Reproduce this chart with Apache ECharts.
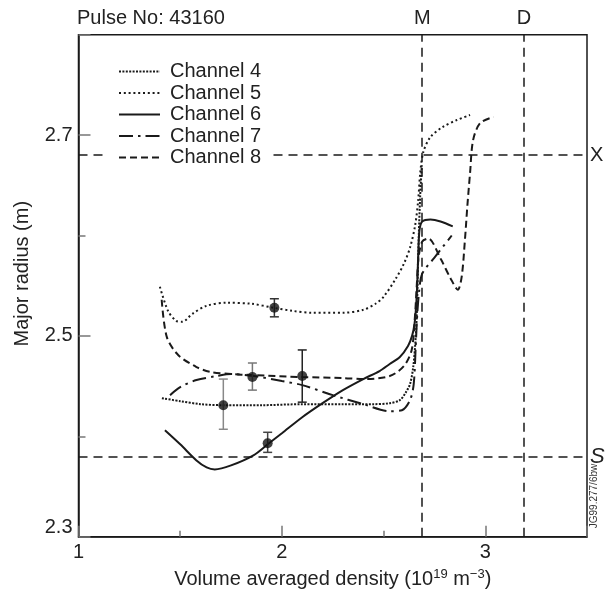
<!DOCTYPE html>
<html>
<head>
<meta charset="utf-8">
<script src="https://cdn.jsdelivr.net/npm/echarts@6/dist/echarts.min.js"></script>
<style>html,body{margin:0;padding:0;background:#fff;}#c{width:611px;height:593px;}</style>
</head>
<body>
<div id="c"></div>
<script>
// ---- data ----
const titleText = 'Pulse No: 43160';
const xTickLabels = ['1', '2', '3'];
const yTickLabels = ['2.3', '2.5', '2.7'];
const channelNames = ['Channel 4', 'Channel 5', 'Channel 6', 'Channel 7', 'Channel 8'];

const ch4 = [[1.41,2.438],[1.5,2.435],[1.6,2.432],[1.71,2.431],[1.9,2.431],[2.1,2.432],[2.3,2.432],[2.45,2.432],[2.53,2.433],[2.58,2.436],[2.61,2.444],[2.63,2.452],[2.645,2.468],[2.655,2.49],[2.663,2.52],[2.668,2.56],[2.673,2.60],[2.68,2.64],[2.688,2.67]];
const ch5 = [[1.40,2.549],[1.44,2.525],[1.48,2.515],[1.51,2.514],[1.56,2.522],[1.63,2.530],[1.73,2.533],[1.85,2.532],[1.96,2.528],[2.05,2.525],[2.15,2.523],[2.3,2.523],[2.4,2.526],[2.46,2.532],[2.5,2.539],[2.56,2.557],[2.6,2.572],[2.63,2.588],[2.655,2.61],[2.67,2.635],[2.68,2.662],[2.695,2.683],[2.73,2.698],[2.79,2.708],[2.86,2.715],[2.925,2.72]];
const ch6 = [[1.425,2.406],[1.5,2.392],[1.58,2.376],[1.63,2.369],[1.67,2.367],[1.75,2.371],[1.86,2.381],[1.93,2.392],[2.0,2.403],[2.1,2.419],[2.2,2.433],[2.3,2.446],[2.4,2.457],[2.48,2.465],[2.53,2.472],[2.58,2.479],[2.62,2.49],[2.64,2.5],[2.652,2.512],[2.66,2.53],[2.666,2.555],[2.671,2.585],[2.677,2.606],[2.69,2.614],[2.73,2.616],[2.78,2.614],[2.84,2.609]];
const ch7 = [[1.45,2.441],[1.5,2.449],[1.58,2.456],[1.68,2.460],[1.75,2.462],[1.86,2.460],[2.0,2.455],[2.1,2.451],[2.25,2.441],[2.4,2.432],[2.53,2.425],[2.59,2.426],[2.63,2.436],[2.648,2.452],[2.658,2.49],[2.665,2.52],[2.675,2.545],[2.69,2.562],[2.75,2.578],[2.835,2.600]];
const ch8 = [[1.409,2.536],[1.434,2.499],[1.49,2.481],[1.58,2.469],[1.65,2.464],[1.75,2.462],[1.85,2.461],[2.1,2.459],[2.3,2.458],[2.4,2.457],[2.53,2.46],[2.6,2.470],[2.638,2.486],[2.654,2.519],[2.663,2.55],[2.672,2.578],[2.69,2.594],[2.72,2.597],[2.78,2.577],[2.83,2.557],[2.865,2.546],[2.884,2.559],[2.90,2.596],[2.912,2.63],[2.925,2.662],[2.94,2.695],[2.975,2.712],[3.04,2.718]];

const points = [[1.963,2.528],[1.855,2.459],[2.100,2.460],[1.712,2.431],[1.930,2.393]];
const errorBars = [[1.963,2.519,2.537],[1.855,2.446,2.473],[2.100,2.434,2.486],[1.712,2.407,2.457],[1.930,2.384,2.404]];

const verticalMarks = [{name: 'M', value: 2.695}, {name: 'D', value: 3.185}];
const horizontalMarks = [{name: 'X', value: 2.678}, {name: 'S', value: 2.381}];
const figureCode = 'JG99.277/6bw';

// ---- styles ----
const FONT = "'Liberation Sans', Arial, Helvetica, sans-serif";
const INK = '#1a1a1a';
const errColors = ['#333', '#777', '#222', '#888', '#444'];
const lineStyles = [
  {type: [2, 1.4], width: 2},
  {type: [2, 2.8], width: 2},
  {type: 'solid', width: 2},
  {type: [14, 5, 2.5, 5], width: 2},
  {type: [7, 4], width: 2}
];
const chData = [ch4, ch5, ch6, ch7, ch8];

const chart = echarts.init(document.getElementById('c'), null, {renderer: 'canvas'});

const lineSeries = channelNames.map((nm, i) => ({
  name: nm,
  type: 'line',
  data: chData[i],
  showSymbol: false,
  symbol: 'none',
  smooth: 0.3,
  lineStyle: Object.assign({color: INK}, lineStyles[i]),
  itemStyle: {color: INK},
  z: 3,
  silent: true
}));

const refLineStyle = {color: INK, type: [9, 6], width: 1.5};

const option = {
  animation: false,
  backgroundColor: '#fff',
  title: {
    text: titleText, left: 77, top: 8, padding: 0,
    textStyle: {fontFamily: FONT, fontSize: 20, fontWeight: 'normal', color: '#222'}
  },
  grid: {
    left: 78.5, right: 24, top: 34.7, bottom: 56.3,
    show: true, borderColor: INK, borderWidth: 1.5, backgroundColor: 'transparent',
    outerBoundsMode: 'none'
  },
  legend: {
    data: channelNames,
    orient: 'vertical',
    left: 108, top: 58.5,
    padding: [3, 10, 3, 10],
    backgroundColor: '#fff',
    itemWidth: 41, itemHeight: 14, itemGap: 1.5,
    itemStyle: {opacity: 0, color: 'rgba(0,0,0,0)', borderColor: 'rgba(0,0,0,0)', borderWidth: 0},
    textStyle: {fontFamily: FONT, fontSize: 20, color: '#222', padding: [0, 0, 0, 5]},
    z: 10
  },
  xAxis: [
    {
      type: 'value', min: 1, max: 3.5, interval: 0.5,
      position: 'bottom',
      axisLine: {show: true, onZero: false, lineStyle: {color: INK, width: 1.5}},
      axisTick: {show: true, inside: true, length: 6, lineStyle: {color: '#777', width: 1.5}},
      axisLabel: {
        fontFamily: FONT, fontSize: 20, color: '#222', margin: 6,
        formatter: v => { const s = String(Math.round(v * 10) / 10); return xTickLabels.includes(s) ? s : ''; }
      },
      splitLine: {show: false},
      name: '{a|Volume averaged density (10}{s|19}{a| m}{s|−3}{a|)}',
      nameLocation: 'middle', nameGap: 31,
      nameTextStyle: {
        rich: {
          a: {fontFamily: FONT, fontSize: 20, color: '#222', lineHeight: 24},
          s: {fontFamily: FONT, fontSize: 13, color: '#222', lineHeight: 14, verticalAlign: 'top'}
        }
      }
    },
    {
      type: 'value', min: 1, max: 3.5, interval: 1,
      position: 'bottom', offset: 0,
      axisLine: {show: false, onZero: false},
      axisTick: {show: true, inside: true, length: 11, lineStyle: {color: '#777', width: 1.5}},
      axisLabel: {show: false},
      splitLine: {show: false}
    }
  ],
  yAxis: [
    {
      type: 'value', min: 2.3, max: 2.8, interval: 0.1,
      position: 'left',
      axisLine: {show: true, onZero: false, lineStyle: {color: INK, width: 1.5}},
      axisTick: {show: true, inside: true, length: 7, lineStyle: {color: '#777', width: 1.5}},
      axisLabel: {
        fontFamily: FONT, fontSize: 20, color: '#222', margin: 6,
        formatter: v => {
          const s = (Math.round(v * 10) / 10).toFixed(1);
          if (!yTickLabels.includes(s)) return '';
          return s === yTickLabels[0] ? '{low|' + s + '}' : s;
        },
        rich: {low: {fontFamily: FONT, fontSize: 20, color: '#222', padding: [0, 0, 18, 0]}}
      },
      splitLine: {show: false},
      name: 'Major radius (m)',
      nameLocation: 'middle', nameGap: 46, nameRotate: 90,
      nameTextStyle: {fontFamily: FONT, fontSize: 20, color: '#222', padding: [0, 0, 0, 24]}
    },
    {
      type: 'value', min: 2.3, max: 2.8, interval: 0.2,
      position: 'left', offset: 0,
      axisLine: {show: false, onZero: false},
      axisTick: {show: true, inside: true, length: 12, lineStyle: {color: '#777', width: 1.5}},
      axisLabel: {show: false},
      splitLine: {show: false}
    }
  ],
  series: lineSeries.concat([
    {
      name: 'refs', type: 'line', data: [], silent: true, z: 1,
      markLine: {
        silent: true, symbol: 'none', animation: false,
        lineStyle: refLineStyle,
        label: {show: true, formatter: '{b}', fontFamily: FONT, fontSize: 20, color: '#222'},
        data: verticalMarks.map(m => ({name: m.name, xAxis: m.value, label: {position: 'end', distance: 6}}))
          .concat(horizontalMarks.map(m => ({
            name: m.name, yAxis: m.value,
            label: m.name === 'S'
              ? {position: 'end', distance: 3, fontSize: 22, fontStyle: 'italic'}
              : {position: 'end', distance: 3}
          })))
      }
    },
    {
      name: 'errors', type: 'custom', z: 5, silent: true,
      data: errorBars,
      renderItem: (params, api) => {
        const x = api.value(0), lo = api.value(1), hi = api.value(2);
        const p1 = api.coord([x, lo]);
        const p2 = api.coord([x, hi]);
        const cw = 4.5;
        const st = {stroke: errColors[params.dataIndex], lineWidth: 1.5};
        return {
          type: 'group',
          children: [
            {type: 'line', shape: {x1: p1[0], y1: p1[1], x2: p2[0], y2: p2[1]}, style: st},
            {type: 'line', shape: {x1: p1[0] - cw, y1: p1[1], x2: p1[0] + cw, y2: p1[1]}, style: st},
            {type: 'line', shape: {x1: p2[0] - cw, y1: p2[1], x2: p2[0] + cw, y2: p2[1]}, style: st}
          ]
        };
      }
    },
    {
      name: 'points', type: 'scatter', data: points, symbol: 'circle', symbolSize: 10,
      itemStyle: {color: '#111'}, z: 6, silent: true
    }
  ]),
  graphic: [
    {
      type: 'text', x: 594, y: 496, rotation: Math.PI / 2,
      style: {text: figureCode, fontFamily: FONT, fontSize: 10, fill: '#333', align: 'center', verticalAlign: 'middle'}
    }
  ]
};

chart.setOption(option);
</script>
</body>
</html>
